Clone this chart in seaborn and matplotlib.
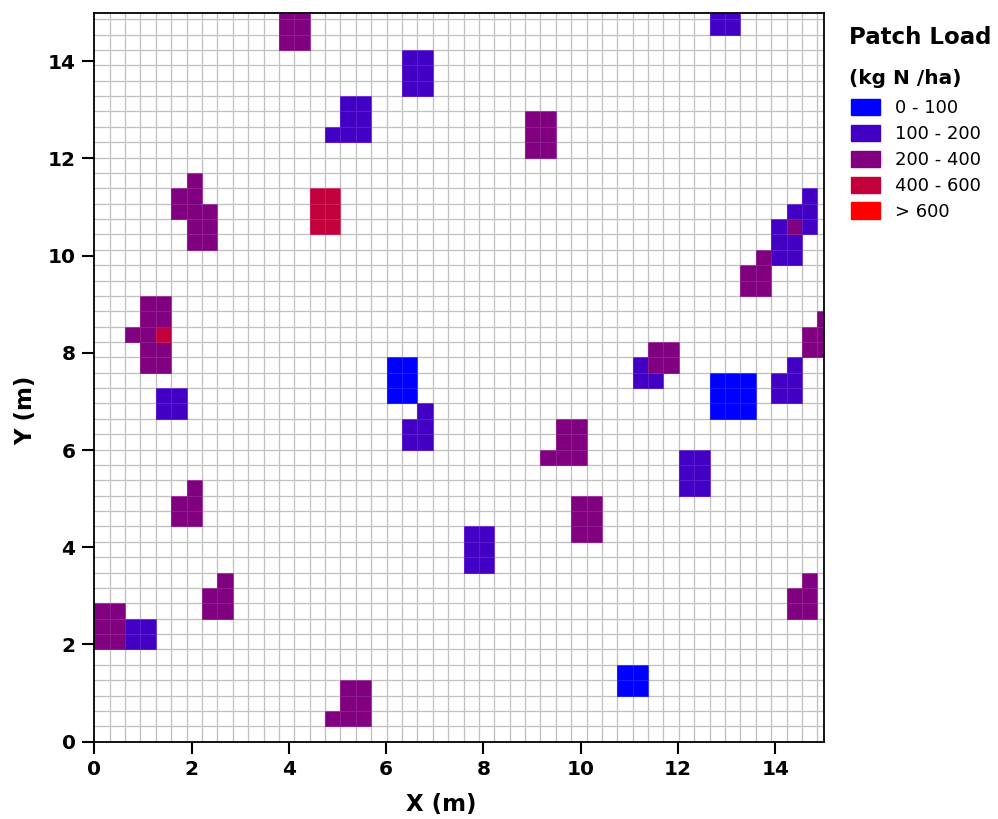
import numpy as np
import pandas as pd
import matplotlib
matplotlib.use("Agg")
import matplotlib.pyplot as plt
import seaborn as sns
from matplotlib.colors import ListedColormap
from matplotlib.patches import Patch

# ---------------- data ----------------
load_classes = ["0 - 100", "100 - 200", "200 - 400", "400 - 600", "> 600"]
class_colors = ["#0000FF", "#4200C4", "#800080", "#C2003C", "#FF0000"]

# cell indices (column, row) of each urine patch cell and its load class index
cell_col = [
    12, 13, 12, 13, 12, 13,                     # A
    40, 41, 40, 41,                             # H
    20, 21, 20, 21, 20, 21,                     # B
    16, 17, 16, 17, 16, 17, 15,                 # C
    28, 29, 28, 29, 28, 29,                     # I
    5, 5, 6, 6, 6, 6, 6, 7, 7, 7,               # D
    14, 15, 14, 15, 14, 15,                     # E
    46, 46, 46, 45, 44, 44, 44, 45, 45, 45,     # J
    43, 43, 43, 42, 42,                         # J purple
    3, 3, 3, 3, 3, 4, 4, 4, 4, 2, 4,            # F
    47, 47, 47, 46, 46,                         # K
    35, 35, 36, 36, 37, 36, 37,                 # L
    19, 20, 19, 20, 19, 20,                     # G
    40, 41, 42, 40, 41, 42, 40, 41, 42,         # M
    44, 44, 45, 45, 45,                         # N
    4, 5, 4, 5,                                 # W2
    21, 21, 21, 20, 20,                         # O
    30, 31, 30, 31, 30, 31, 29,                 # P
    38, 39, 38, 39, 38, 39,                     # R
    5, 5, 6, 6, 6,                              # T
    31, 32, 31, 32, 31, 32,                     # Q
    24, 25, 24, 25, 24, 25,                     # S
    7, 7, 8, 8, 8,                              # U
    45, 45, 46, 46, 46,                         # AA
    0, 1, 0, 1, 0, 1,                           # V
    2, 3, 2, 3,                                 # W
    34, 35, 34, 35,                             # Y
    16, 17, 16, 17, 16, 17, 15,                 # Z
]
cell_row = [
    45, 45, 46, 46, 47, 47,
    46, 46, 47, 47,
    42, 42, 43, 43, 44, 44,
    39, 39, 40, 40, 41, 41, 39,
    38, 38, 39, 39, 40, 40,
    34, 35, 32, 33, 34, 35, 36, 32, 33, 34,
    33, 33, 34, 34, 35, 35,
    33, 34, 35, 34, 31, 32, 33, 31, 32, 33,
    29, 30, 31, 29, 30,
    24, 25, 26, 27, 28, 24, 25, 27, 28, 26, 26,
    25, 26, 27, 25, 26,
    23, 24, 23, 24, 24, 25, 25,
    22, 22, 23, 23, 24, 24,
    21, 21, 21, 22, 22, 22, 23, 23, 23,
    22, 23, 22, 23, 24,
    21, 21, 22, 22,
    19, 20, 21, 19, 20,
    18, 18, 19, 19, 20, 20, 18,
    16, 16, 17, 17, 18, 18,
    14, 15, 14, 15, 16,
    13, 13, 14, 14, 15, 15,
    11, 11, 12, 12, 13, 13,
    8, 9, 8, 9, 10,
    8, 9, 8, 9, 10,
    6, 6, 7, 7, 8, 8,
    6, 6, 7, 7,
    3, 3, 4, 4,
    1, 1, 2, 2, 3, 3, 1,
]
cell_class = (
    [2] * 6 + [1] * 4 + [1] * 6 + [1] * 7 + [2] * 6 + [2] * 10 + [3] * 6
    + [1, 1, 1, 1, 1, 1, 1, 1, 1, 2]
    + [2] * 5
    + [2] * 10 + [3]
    + [2] * 5
    + [1, 1, 1, 2, 2, 2, 2]
    + [0] * 6 + [0] * 9 + [1] * 5 + [1] * 4 + [1] * 5 + [2] * 7 + [1] * 6
    + [2] * 5 + [2] * 6 + [1] * 6 + [2] * 5 + [2] * 5 + [2] * 6 + [1] * 4
    + [0] * 4 + [2] * 7
)

x_ticks = [0, 2, 4, 6, 8, 10, 12, 14]
y_ticks = [0, 2, 4, 6, 8, 10, 12, 14]

# ---------------- layout ----------------
CELL = np.sqrt(0.1)          # cell side (m) -> 0.1 m2 cells
EXTENT = 15.0
NCELL = int(np.ceil(EXTENT / CELL))
LIM = EXTENT / CELL

grid = np.full((NCELL, NCELL), np.nan)
for c, r, k in zip(cell_col, cell_row, cell_class):
    grid[r, c] = k
df = pd.DataFrame(grid)

sns.set_style("white")
plt.rcParams["font.family"] = ["DejaVu Sans"]
plt.rcParams["text.color"] = "black"
plt.rcParams["axes.labelcolor"] = "black"
plt.rcParams["xtick.color"] = "black"
plt.rcParams["ytick.color"] = "black"

fig = plt.figure(figsize=(9.98, 8.19), dpi=100)
W, H = 998, 819
left, right, top, bottom = 94.3, 824, 12.5, 741.7
ax = fig.add_axes([left / W, 1 - bottom / H, (right - left) / W, (bottom - top) / H])

sns.heatmap(df, ax=ax, cmap=ListedColormap(class_colors), vmin=-0.5, vmax=4.5,
            mask=df.isna(), cbar=False, linewidths=0.5,
            linecolor=(1, 1, 1, 0.12), xticklabels=False, yticklabels=False)

ax.set_xticks(np.arange(NCELL + 1), minor=True)
ax.set_yticks(np.arange(NCELL + 1), minor=True)
ax.grid(which="minor", color="#b0b0b0", linewidth=0.9)
ax.set_axisbelow(True)

ax.set_xticks(np.array(x_ticks) / CELL)
ax.set_xticklabels([str(t) for t in x_ticks])
ax.set_yticks(np.array(y_ticks) / CELL)
ax.set_yticklabels([str(t) for t in y_ticks])
ax.set_xlim(0, LIM)
ax.set_ylim(0, LIM)

ax.tick_params(which="major", direction="out", length=8.5, width=1.5, color="black",
               labelsize=14.5, pad=5, bottom=True, left=True, labelcolor="black")
ax.tick_params(which="minor", length=0)
for lab in ax.get_xticklabels() + ax.get_yticklabels():
    lab.set_fontweight("bold")

for s in ax.spines.values():
    s.set_visible(True)
    s.set_color("black")
    s.set_linewidth(1.3)

ax.set_xlabel("X (m)", fontsize=16.5, fontweight="bold")
ax.set_ylabel("Y (m)", fontsize=16.5, fontweight="bold")
ax.xaxis.set_label_coords((441 - left) / (right - left), -(805 - bottom) / (bottom - top), transform=ax.transAxes)
ax.xaxis.label.set_va("center")
ax.yaxis.set_label_coords(-(left - 26) / (right - left), (bottom - 410) / (bottom - top), transform=ax.transAxes)
ax.yaxis.label.set_va("center")

# legend
fig.text(849 / W, 1 - 37 / H, "Patch Load", fontsize=16.5, fontweight="bold",
         va="center", ha="left")
fig.text(849 / W, 1 - 78 / H, "(kg N /ha)", fontsize=14.5, fontweight="bold",
         va="center", ha="left")
handles = [Patch(facecolor=c, edgecolor=c, label=l) for c, l in zip(class_colors, load_classes)]
fig.legend(handles=handles, loc="upper left", bbox_to_anchor=(851 / W, 1 - 99 / H),
           frameon=False, fontsize=13, handlelength=1.6, handleheight=1.0,
           handletextpad=0.85, labelspacing=0.42, borderaxespad=0, borderpad=0)

fig.savefig("out.png", dpi=100)
